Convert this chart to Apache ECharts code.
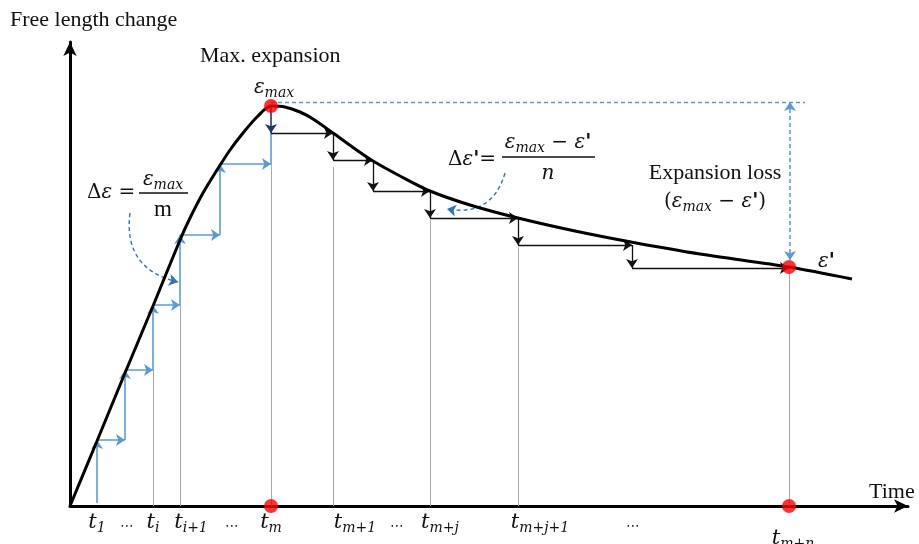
<!DOCTYPE html>
<html><head><meta charset="utf-8">
<script src="https://cdn.jsdelivr.net/npm/echarts@6/dist/echarts.min.js"></script>
<style>html,body{margin:0;padding:0;background:#fff}#c{width:919px;height:544px}</style>
</head><body><div id="c"></div>
<script>
// ---- schematic data (time on x, free length change on y, arbitrary units) ----
const curveTime  = [0, 27, 55, 83, 110, 120, 133, 147, 160, 173, 187, 201, 215, 230, 243, 263, 288, 303, 330, 360, 400, 448, 505, 561, 630, 719, 782];
const curveValue = [0, 65, 133, 200, 266, 288, 313, 336, 356, 373, 389, 400, 399, 394, 387, 373, 355, 345, 330, 315, 301, 288, 275, 264, 252, 239, 227];

const riseTimes  = [27, 55, 83, 110, 150, 201];
const riseLevels = [3, 66, 136, 201, 271, 342];
const riseTopLevel = 373;

const peakTime = 201, peakValue = 400;
const decayTimes  = [201, 263, 303, 360, 448, 562, 719];
const decayLevels = [373, 346, 315, 288, 261, 238];
const finalTime = 719, finalValue = 239;

const guideTimes = [83, 110, 201, 263, 360, 448, 719];
const guideTops  = [136, 201, 342, 339, 286, 259, 236];

const lossLineEnd = 735;
const lossLevelTop = 404, lossLevelBottom = 246;

const leftNoteFrom = [60, 293], leftNoteTo = [108, 224];
const rightNoteFrom = [435, 333], rightNoteTo = [377, 297];

const tickPositions = [27, 57, 83, 121, 162, 201, 285, 327, 370, 470, 563, 723];
const tickMain = ['t', '⋯', 't', 't', '⋯', 't', 't', '⋯', 't', 't', '⋯', 't'];
const tickSub  = ['1', '', 'i', 'i+1', '', 'm', 'm+1', '', 'm+j', 'm+j+1', '', 'm+n'];
const tickLow  = [0, 0, 0, 0, 0, 0, 0, 0, 0, 0, 0, 1];

// ---- build segments ----
const curveData = curveTime.map((t, i) => [t, curveValue[i]]);
const riseSegs = [];
for (let k = 0; k < riseTimes.length - 1; k++) {
  riseSegs.push({coords: [[riseTimes[k], riseLevels[k]], [riseTimes[k], riseLevels[k + 1]]]});
  riseSegs.push({coords: [[riseTimes[k], riseLevels[k + 1]], [riseTimes[k + 1], riseLevels[k + 1]]]});
}
const riseLast = riseTimes[riseTimes.length - 1];
const riseTail = [{coords: [[riseLast, riseLevels[riseLevels.length - 1]], [riseLast, riseTopLevel]]}];
const peakDrop = [{coords: [[peakTime, peakValue], [decayTimes[0], decayLevels[0]]]}];
const decaySegs = [];
for (let k = 0; k < decayLevels.length; k++) {
  decaySegs.push({coords: [[decayTimes[k], decayLevels[k]], [decayTimes[k + 1], decayLevels[k]]]});
  if (k + 1 < decayLevels.length)
    decaySegs.push({coords: [[decayTimes[k + 1], decayLevels[k]], [decayTimes[k + 1], decayLevels[k + 1]]]});
}
const guideSegs = guideTimes.map((t, i) => ({coords: [[t, 0], [t, guideTops[i]]]}));

const BLUE = '#5b9bd5', DBLUE = '#2e75b6', NAVY = '#1f3864';

const chart = echarts.init(document.getElementById('c'), null, {renderer: 'canvas'});

const MATH = {
  e: {fontFamily: 'DejaVu Serif', fontStyle: 'italic', fontSize: 20, fill: '#111'},
  p: {fontFamily: 'DejaVu Serif', fontStyle: 'italic', fontSize: 20, fill: '#111', fontWeight: 'bold'},
  s: {fontFamily: 'DejaVu Serif', fontStyle: 'italic', fontSize: 14, fill: '#111', padding: [10, 0, 0, 0]},
  u: {fontFamily: 'DejaVu Serif', fontSize: 20, fill: '#111'},
  r: {fontFamily: 'Liberation Serif', fontSize: 22, fill: '#111'}
};
function txt(x, y, text, extra) {
  return {type: 'text', x: x, y: y, z: 100,
    style: Object.assign({text: text, fill: '#111', align: 'center', verticalAlign: 'middle',
      font: '22px "Liberation Serif"', rich: MATH}, extra || {})};
}
function bar(x1, x2, y) {
  return {type: 'line', z: 100, shape: {x1: x1, y1: y, x2: x2, y2: y}, style: {stroke: '#111', lineWidth: 1.5}};
}

chart.setOption({
  animation: false,
  backgroundColor: '#fff',
  grid: {left: 70, right: 11, top: 42, bottom: 38, containLabel: false, outerBoundsMode: 'none'},
  xAxis: {
    type: 'value', min: 0, max: 838,
    axisLine: {show: true, lineStyle: {color: '#000', width: 3}, symbol: ['none', 'arrow'], symbolSize: [10, 14]},
    axisTick: {show: false}, splitLine: {show: false},
    axisLabel: {
      customValues: tickPositions, margin: 5,
      formatter: function (v) {
        const i = tickPositions.indexOf(v);
        if (i < 0) return '';
        if (!tickSub[i]) return '{d|' + tickMain[i] + '}';
        return tickLow[i] ? '{T|' + tickMain[i] + '}{S|' + tickSub[i] + '}' : '{t|' + tickMain[i] + '}{s|' + tickSub[i] + '}';
      },
      rich: {
        t: {fontFamily: 'DejaVu Serif', fontStyle: 'italic', fontSize: 21, color: '#111'},
        s: {fontFamily: 'DejaVu Serif', fontStyle: 'italic', fontSize: 14, color: '#111', padding: [10, 0, 0, 0]},
        T: {fontFamily: 'DejaVu Serif', fontStyle: 'italic', fontSize: 21, color: '#111', padding: [16, 0, 0, 0]},
        S: {fontFamily: 'DejaVu Serif', fontStyle: 'italic', fontSize: 14, color: '#111', padding: [26, 0, 0, 0]},
        d: {fontFamily: 'DejaVu Sans', fontSize: 14, color: '#222', padding: [8, 0, 0, 0]}
      }
    }
  },
  yAxis: {
    type: 'value', min: 0, max: 464,
    axisLine: {show: true, lineStyle: {color: '#000', width: 3}, symbol: ['none', 'arrow'], symbolSize: [10, 14]},
    axisTick: {show: false}, splitLine: {show: false}, axisLabel: {show: false}
  },
  series: [
    {type: 'lines', coordinateSystem: 'cartesian2d', z: 1, data: guideSegs, symbol: 'none',
      lineStyle: {color: '#aaa', width: 1, opacity: 1}},
    {type: 'lines', coordinateSystem: 'cartesian2d', z: 3, data: riseSegs, symbol: ['none', 'arrow'], symbolSize: 9,
      lineStyle: {color: BLUE, width: 1.6, opacity: 1}},
    {type: 'lines', coordinateSystem: 'cartesian2d', z: 3, data: riseTail, symbol: 'none',
      lineStyle: {color: BLUE, width: 1.6, opacity: 1}},
    {type: 'lines', coordinateSystem: 'cartesian2d', z: 3, data: peakDrop, symbol: ['none', 'arrow'], symbolSize: 9,
      lineStyle: {color: NAVY, width: 1.6, opacity: 1}},
    {type: 'lines', coordinateSystem: 'cartesian2d', z: 3, data: decaySegs, symbol: ['none', 'arrow'], symbolSize: 9,
      lineStyle: {color: '#111', width: 1.3, opacity: 1}},
    {type: 'lines', coordinateSystem: 'cartesian2d', z: 2, data: [{coords: [[peakTime, lossLevelTop], [lossLineEnd, lossLevelTop]]}],
      symbol: 'none', lineStyle: {color: BLUE, width: 1.3, type: [4, 3], opacity: 1}},
    {type: 'lines', coordinateSystem: 'cartesian2d', z: 2, data: [{coords: [[finalTime + 1, lossLevelTop], [finalTime + 1, lossLevelBottom]]}],
      symbol: ['arrow', 'arrow'], symbolSize: 9, lineStyle: {color: BLUE, width: 1.6, type: [4, 3], opacity: 1}},
    {type: 'lines', coordinateSystem: 'cartesian2d', z: 4, data: [{coords: [leftNoteFrom, leftNoteTo]}],
      symbol: ['none', 'arrow'], symbolSize: 9, lineStyle: {color: DBLUE, width: 1.4, type: [4, 3], curveness: -0.45, opacity: 1}},
    {type: 'lines', coordinateSystem: 'cartesian2d', z: 4, data: [{coords: [rightNoteFrom, rightNoteTo]}],
      symbol: ['none', 'arrow'], symbolSize: 9, lineStyle: {color: DBLUE, width: 1.4, type: [4, 3], curveness: 0.45, opacity: 1}},
    {type: 'line', z: 5, data: curveData, smooth: 0.3, showSymbol: false, symbol: 'none',
      lineStyle: {color: '#000', width: 3}},
    {type: 'scatter', z: 10, symbolSize: 14, itemStyle: {color: '#ff0000'},
      data: [[peakTime, peakValue], [finalTime, finalValue], [peakTime, 0], [finalTime, 0]]}
  ],
  graphic: [
    txt(10, 20, 'Free length change', {align: 'left'}),
    txt(200, 56, 'Max. expansion', {align: 'left'}),
    txt(274, 88, '{e|ε}{s|max}'),
    txt(87, 193, '{u|Δ}{e|ε}{u| = }', {align: 'left'}),
    txt(163, 180, '{e|ε}{s|max}'),
    bar(139, 188, 193),
    txt(163, 210, 'm', {font: '23px "Liberation Serif"'}),
    txt(448, 160, "{u|Δ}{e|ε}{p|'}{u|=}", {align: 'left'}),
    txt(548, 143, "{e|ε}{s|max}{u| − }{e|ε}{p|'}"),
    bar(502, 595, 157),
    txt(548, 174, '{e|n}'),
    txt(715, 173, 'Expansion loss'),
    txt(715, 202, "{u|(}{e|ε}{s|max}{u| − }{e|ε}{p|'}{u|)}"),
    txt(818, 262, "{e|ε}{p|'}", {align: 'left'}),
    txt(869, 492, 'Time', {align: 'left'})
  ]
});
</script></body></html>
